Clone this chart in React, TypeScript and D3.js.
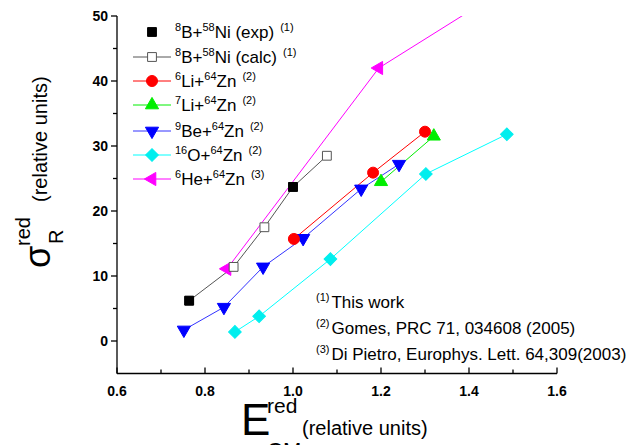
import * as d3 from 'd3';

// reduced energy vs reduced cross section
const b8Ni58Exp: [number, number][] = [[0.764, 6.2], [1.0, 23.7]];
const b8Ni58Calc: [number, number][] = [[0.764, 6.2], [0.865, 11.4], [0.935, 17.5], [1.0, 23.7], [1.077, 28.5]];
const li6Zn64: [number, number][] = [[1.002, 15.7], [1.182, 25.9], [1.3, 32.2]];
const li7Zn64: [number, number][] = [[1.2, 24.5], [1.32, 31.5]];
const be9Zn64: [number, number][] = [[0.752, 1.7], [0.843, 5.2], [0.932, 11.4], [1.023, 15.8], [1.155, 23.4], [1.241, 27.2]];
const o16Zn64: [number, number][] = [[0.868, 1.4], [0.923, 3.8], [1.085, 12.6], [1.302, 25.7], [1.486, 31.8]];
const he6Zn64: [number, number][] = [[0.85, 11.1], [1.195, 42.0], [1.49, 54.5]];

const xTicks = [0.6, 0.8, 1.0, 1.2, 1.4, 1.6];
const xMinor = [0.7, 0.9, 1.1, 1.3, 1.5];
const yTicks = [0, 10, 20, 30, 40, 50];
const yMinor = [5, 15, 25, 35, 45];

const notes = [
  ['(1)', 'This work'],
  ['(2)', 'Gomes, PRC 71, 034608 (2005)'],
  ['(3)', 'Di Pietro, Europhys. Lett. 64,309(2003)'],
];

type Series = {
  mass: string; proj: string; tmass: string; target: string; tag: string; ref: string;
  data: [number, number][]; color: string; line: string | null; shape: string; fill: boolean;
};

const series: Series[] = [
  { mass: '8', proj: 'B', tmass: '58', target: 'Ni', tag: ' (exp)', ref: '(1)', data: b8Ni58Exp, color: '#000000', line: null, shape: 'square', fill: true },
  { mass: '8', proj: 'B', tmass: '58', target: 'Ni', tag: ' (calc)', ref: '(1)', data: b8Ni58Calc, color: '#000000', line: '#555555', shape: 'square', fill: false },
  { mass: '6', proj: 'Li', tmass: '64', target: 'Zn', tag: '', ref: '(2)', data: li6Zn64, color: '#ff0000', line: '#ff0000', shape: 'circle', fill: true },
  { mass: '7', proj: 'Li', tmass: '64', target: 'Zn', tag: '', ref: '(2)', data: li7Zn64, color: '#00ee00', line: '#00ee00', shape: 'up', fill: true },
  { mass: '9', proj: 'Be', tmass: '64', target: 'Zn', tag: '', ref: '(2)', data: be9Zn64, color: '#0000ff', line: '#3333ff', shape: 'down', fill: true },
  { mass: '16', proj: 'O', tmass: '64', target: 'Zn', tag: '', ref: '(2)', data: o16Zn64, color: '#00eeee', line: '#00ffff', shape: 'diamond', fill: true },
  { mass: '6', proj: 'He', tmass: '64', target: 'Zn', tag: '', ref: '(3)', data: he6Zn64, color: '#ff00ff', line: '#ff00ff', shape: 'left', fill: true },
];

const W = 627;
const H = 445;
const left = 117, right = 557, top = 16, bottom = 373.5;

const x = d3.scaleLinear().domain([0.6, 1.6]).range([left, right]);
const y = d3.scaleLinear().domain([-5, 50]).range([bottom, top]);

const markerPath = (shape: string) => {
  if (shape === 'square') return { d: d3.symbol(d3.symbolSquare, 78)()!, rot: 0 };
  if (shape === 'circle') return { d: d3.symbol(d3.symbolCircle, 95)()!, rot: 0 };
  if (shape === 'diamond') return { d: d3.symbol(d3.symbolSquare, 80)()!, rot: 45 };
  const tri = d3.symbol(d3.symbolTriangle, 75)()!;
  if (shape === 'up') return { d: tri, rot: 0 };
  if (shape === 'down') return { d: tri, rot: 180 };
  return { d: tri, rot: -90 };
};

const Marker = ({ s, cx, cy }: { s: Series; cx: number; cy: number }) => {
  const m = markerPath(s.shape);
  return (
    <path
      d={m.d}
      transform={`translate(${cx},${cy}) rotate(${m.rot})`}
      fill={s.fill ? s.color : '#ffffff'}
      stroke={s.fill ? s.color : '#555555'}
      strokeWidth={1}
    />
  );
};

export default function App() {
  const line = d3.line<[number, number]>().x(d => x(d[0])).y(d => y(d[1]));
  const font = 'Arial, "Liberation Sans", sans-serif';
  const legendY = [32, 57, 81, 105, 131, 155, 179];

  return (
    <svg width={W} height={H} style={{ position: 'absolute', left: 0, top: 0, background: '#fff' }} fontFamily={font}>
      <defs>
        <clipPath id="plot">
          <rect x={left} y={top} width={right - left} height={bottom - top} />
        </clipPath>
      </defs>

      {/* axes */}
      <g stroke="#000" strokeWidth={1.3} fill="none">
        <line x1={left} y1={top} x2={left} y2={bottom} />
        <line x1={left} y1={bottom} x2={right} y2={bottom} />
        {yTicks.map(t => <line key={'y' + t} x1={left - 6} x2={left} y1={y(t)} y2={y(t)} />)}
        {yMinor.map(t => <line key={'ym' + t} x1={left - 4} x2={left} y1={y(t)} y2={y(t)} />)}
        {xTicks.map(t => <line key={'x' + t} x1={x(t)} x2={x(t)} y1={bottom} y2={bottom - 6} />)}
        {xMinor.map(t => <line key={'xm' + t} x1={x(t)} x2={x(t)} y1={bottom} y2={bottom - 4} />)}
      </g>
      <g fontSize={14} fontWeight="bold" fill="#000">
        {yTicks.map(t => (
          <text key={t} x={left - 9} y={y(t) + 5} textAnchor="end">{t}</text>
        ))}
        {xTicks.map(t => (
          <text key={t} x={x(t)} y={bottom + 22} textAnchor="middle">{t.toFixed(1)}</text>
        ))}
      </g>

      {/* series */}
      <g clipPath="url(#plot)">
        {series.map((s, i) =>
          s.line ? <path key={i} d={line(s.data)!} fill="none" stroke={s.line} strokeWidth={1} /> : null
        )}
        {series.slice().reverse().map((s, i) => (
          <g key={i}>
            {s.data.map((d, j) => <Marker key={j} s={s} cx={x(d[0])} cy={y(d[1])} />)}
          </g>
        ))}
      </g>

      {/* legend */}
      {series.map((s, i) => (
        <g key={i}>
          {s.line ? <line x1={133} x2={171} y1={legendY[i]} y2={legendY[i]} stroke={s.line} strokeWidth={1} /> : null}
          <Marker s={s} cx={152} cy={legendY[i]} />
          <text x={175} y={legendY[i] + 6} fontSize={17}>
            <tspan fontSize={11} dy={-7}>{s.mass}</tspan>
            <tspan dy={7}>{s.proj}+</tspan>
            <tspan fontSize={11} dy={-7}>{s.tmass}</tspan>
            <tspan dy={7}>{s.target}{s.tag}</tspan>
            <tspan fontSize={11} dy={-7} dx={6}>{s.ref}</tspan>
          </text>
        </g>
      ))}

      {/* notes */}
      {notes.map((n, i) => (
        <text key={i} x={316} y={308 + i * 26} fontSize={17}>
          <tspan fontSize={11} dy={-7}>{n[0]}</tspan>
          <tspan dy={7} dx={2}>{n[1]}</tspan>
        </text>
      ))}

      {/* x title */}
      <text x={241} y={435} fontSize={44}>E</text>
      <text x={267} y={413} fontSize={21}>red</text>
      <text x={267} y={458} fontSize={22}>CM</text>
      <text x={302} y={435} fontSize={20}>(relative units)</text>

      {/* y title */}
      <g transform="translate(50,268) rotate(-90)">
        <text x={0} y={0} fontSize={36}>σ</text>
        <text x={24} y={13} fontSize={20}>R</text>
        <text x={22} y={-20} fontSize={20}>red</text>
        <text x={66} y={-3} fontSize={20}>(relative units)</text>
      </g>
    </svg>
  );
}
